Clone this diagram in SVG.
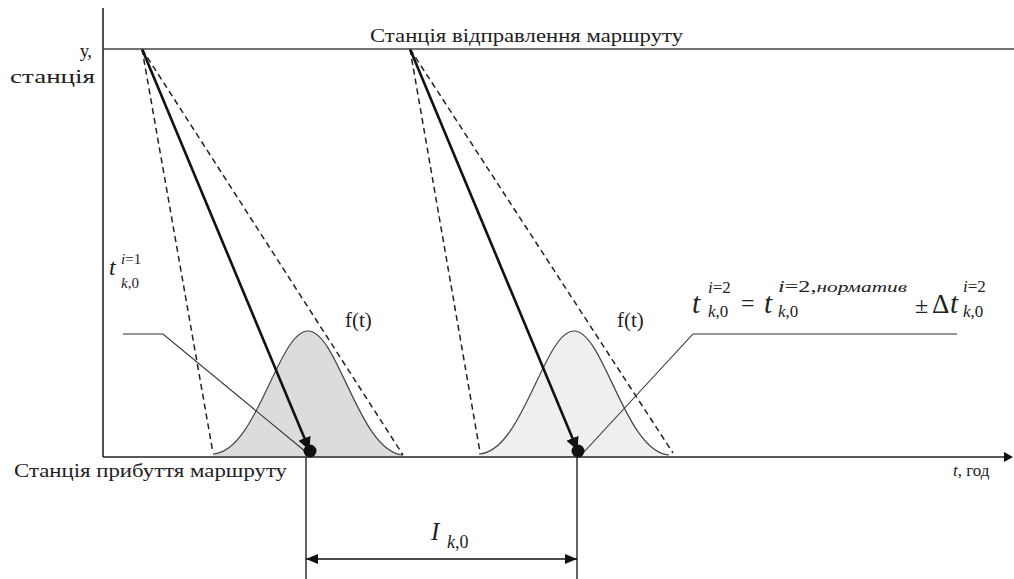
<svg xmlns="http://www.w3.org/2000/svg" width="1014" height="579" viewBox="0 0 1014 579">
<style>
text{font-family:'Liberation Serif','Times New Roman',serif;fill:#222}
.it{font-style:italic}
.ax{stroke:#222;stroke-width:1.6;fill:none}
.dash{stroke:#222;stroke-width:1.5;stroke-dasharray:6 4;fill:none}
.solid{stroke:#111;stroke-width:2.6;fill:none}
.bell{stroke:#444;stroke-width:1.2;fill:none}
.thin{stroke:#333;stroke-width:1.1;fill:none}
</style>
<defs>
<marker id="ah" viewBox="0 0 10 10" refX="9" refY="5" markerWidth="5" markerHeight="5" orient="auto" markerUnits="strokeWidth"><path d="M0,0 L10,5 L0,10 Z" fill="#111"/></marker>
<marker id="ah2" viewBox="0 0 12 10" refX="12" refY="5" markerWidth="12" markerHeight="10" orient="auto-start-reverse" markerUnits="userSpaceOnUse"><path d="M0,0 L12,5 L0,10 Z" fill="#111"/></marker>
</defs>
<rect width="1014" height="579" fill="#fff"/>

<g id="bells">
<path d="M213,456 L213,454 C257,452 278,331 308,331 C338,331 359,452 403,455 L403,456 Z" fill="#dcdcdc"/>
<path d="M479,456 L479,454 C523,452 544,331 574,331 C604,331 625,452 669,455 L669,456 Z" fill="#efefef"/>
<path class="bell" d="M213,454 C257,452 278,331 308,331 C338,331 359,452 403,455"/>
<path class="bell" d="M479,454 C523,452 544,331 574,331 C604,331 625,452 669,455"/>
</g>

<g id="connectors">
<line class="dash" x1="142" y1="49" x2="213" y2="453"/>
<line class="dash" x1="142" y1="49" x2="403" y2="455"/>
<line class="dash" x1="410" y1="49" x2="480" y2="452"/>
<line class="dash" x1="410" y1="49" x2="673" y2="453"/>
<line class="solid" x1="142" y1="49" x2="309" y2="449" marker-end="url(#ah)"/>
<line class="solid" x1="410" y1="49" x2="577" y2="449" marker-end="url(#ah)"/>
<polyline class="thin" points="123,334 163,334 306,452"/>
<polyline class="thin" points="957,334 693,334 584,452"/>
<line x1="306" y1="457" x2="306" y2="579" stroke="#111" stroke-width="1.3"/>
<line x1="577" y1="457" x2="577" y2="579" stroke="#111" stroke-width="1.3"/>
<line x1="306" y1="559" x2="577" y2="559" stroke="#111" stroke-width="1.3" marker-start="url(#ah2)" marker-end="url(#ah2)"/>
</g>

<g id="axes">
<line class="ax" x1="103" y1="8" x2="103" y2="457"/>
<line x1="103" y1="49" x2="1014" y2="49" stroke="#444" stroke-width="1.6"/>
<line class="ax" x1="103" y1="457" x2="1005" y2="457"/>
<path d="M1004,452 L1013,457 L1004,462 Z" fill="#111"/>
</g>

<g id="dots">
<circle cx="310" cy="451" r="6.5" fill="#111"/>
<circle cx="578" cy="451" r="6.5" fill="#111"/>
</g>

<g id="labels">
<text x="92" y="57" font-size="19" text-anchor="end">у,</text>
<text x="10" y="83" font-size="19" textLength="85" lengthAdjust="spacingAndGlyphs">станція</text>
<text x="370" y="42" font-size="19" textLength="313" lengthAdjust="spacingAndGlyphs">Станція відправлення маршруту</text>
<text x="14" y="477" font-size="19" textLength="273" lengthAdjust="spacingAndGlyphs">Станція прибуття маршруту</text>
<text x="953" y="476" font-size="17"><tspan class="it">t</tspan>, год</text>
<text x="345" y="327" font-size="21">f(t)</text>
<text x="617" y="327" font-size="21">f(t)</text>
</g>

<g id="formula-left">
<text x="109" y="275" font-size="24" class="it">t</text>
<text x="121" y="264" font-size="15"><tspan class="it">i</tspan>=1</text>
<text x="121" y="288" font-size="15"><tspan class="it">k</tspan>,0</text>
</g>

<g id="formula-right">
<text x="692" y="313" font-size="29" class="it">t</text>
<text x="708" y="293" font-size="17"><tspan class="it">i</tspan>=2</text>
<text x="708" y="317" font-size="17"><tspan class="it">k</tspan>,0</text>
<text x="741" y="311" font-size="24">=</text>
<text x="764" y="313" font-size="29" class="it">t</text>
<text x="778" y="292" font-size="17" textLength="129" lengthAdjust="spacingAndGlyphs"><tspan class="it">i</tspan>=2,<tspan class="it" font-size="15">норматив</tspan></text>
<text x="778" y="317" font-size="17"><tspan class="it">k</tspan>,0</text>
<text x="915" y="313" font-size="24">±</text>
<text x="932" y="313" font-size="27">Δ</text>
<text x="950" y="313" font-size="29" class="it">t</text>
<text x="963" y="292" font-size="17"><tspan class="it">i</tspan>=2</text>
<text x="963" y="317" font-size="17"><tspan class="it">k</tspan>,0</text>
</g>

<g id="interval-label">
<text x="431" y="540" font-size="25" class="it">I</text>
<text x="447" y="548" font-size="18"><tspan class="it">k</tspan>,0</text>
</g>
</svg>
